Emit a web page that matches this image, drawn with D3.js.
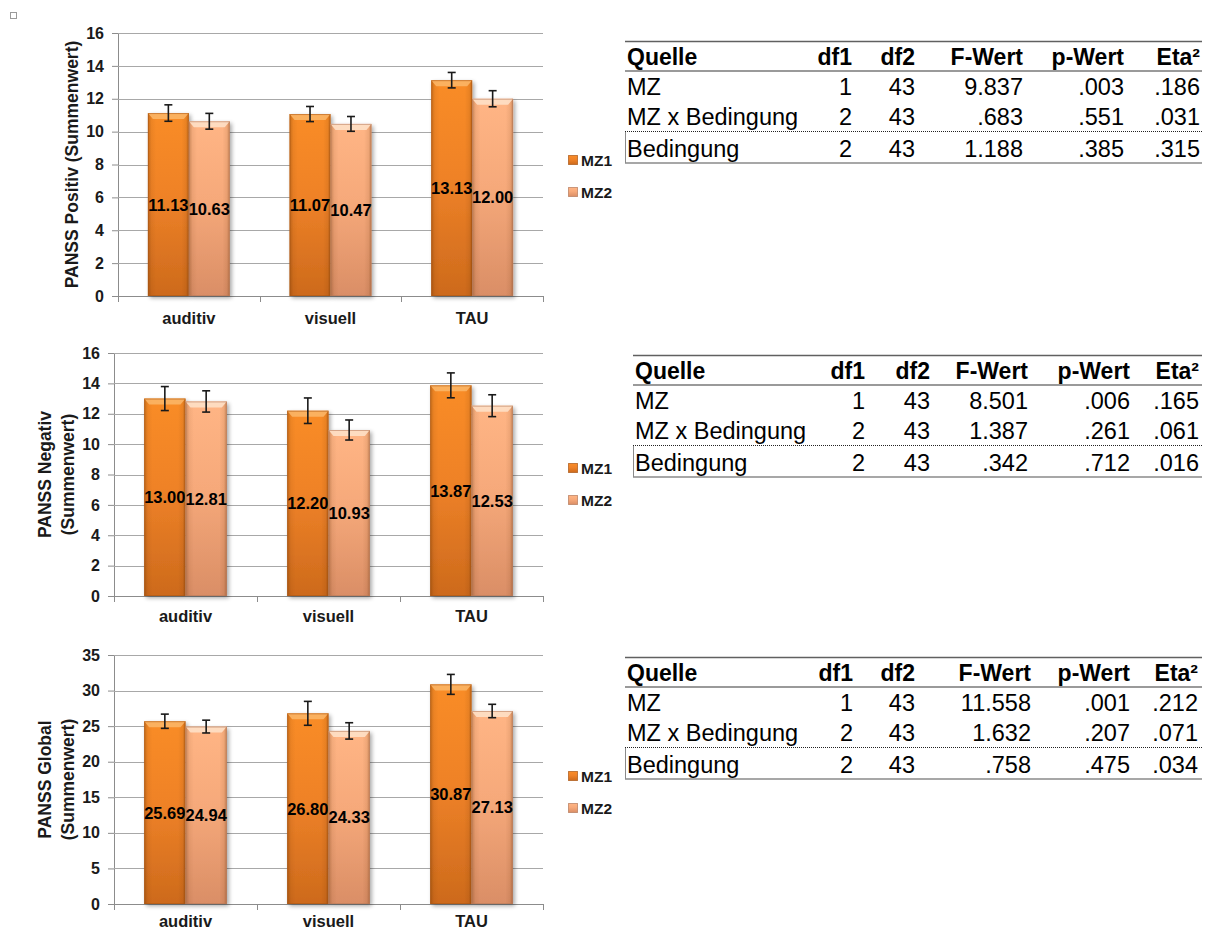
<!DOCTYPE html>
<html>
<head>
<meta charset="utf-8">
<script src="https://cdn.jsdelivr.net/npm/d3@7"></script>
<style>
  html, body { margin: 0; padding: 0; background: #fff; }
  svg { display: block; font-family: "Liberation Sans", Arial, sans-serif; }
</style>
</head>
<body>
<svg id="chart" width="1212" height="931"></svg>
<script>
// ---- data ----
const categories = ["auditiv", "visuell", "TAU"];
const seriesNames = ["MZ1", "MZ2"];

// PANSS Positiv
const positivMZ1 = [11.13, 11.07, 13.13];
const positivMZ2 = [10.63, 10.47, 12.00];
const positivErrMZ1 = [0.50, 0.46, 0.47];
const positivErrMZ2 = [0.48, 0.45, 0.49];
const positivTicks = [0, 2, 4, 6, 8, 10, 12, 14, 16];

// PANSS Negativ
const negativMZ1 = [13.00, 12.20, 13.87];
const negativMZ2 = [12.81, 10.93, 12.53];
const negativErrMZ1 = [0.79, 0.84, 0.82];
const negativErrMZ2 = [0.70, 0.66, 0.72];
const negativTicks = [0, 2, 4, 6, 8, 10, 12, 14, 16];

// PANSS Global
const globalMZ1 = [25.69, 26.80, 30.87];
const globalMZ2 = [24.94, 24.33, 27.13];
const globalErrMZ1 = [1.00, 1.68, 1.40];
const globalErrMZ2 = [0.90, 1.15, 0.94];
const globalTicks = [0, 5, 10, 15, 20, 25, 30, 35];

// ANOVA tables
const tableHeader = ["Quelle", "df1", "df2", "F-Wert", "p-Wert", "Eta²"];
const positivAnova = [
  ["MZ", "1", "43", "9.837", ".003", ".186"],
  ["MZ x Bedingung", "2", "43", ".683", ".551", ".031"],
  ["Bedingung", "2", "43", "1.188", ".385", ".315"]
];
const negativAnova = [
  ["MZ", "1", "43", "8.501", ".006", ".165"],
  ["MZ x Bedingung", "2", "43", "1.387", ".261", ".061"],
  ["Bedingung", "2", "43", ".342", ".712", ".016"]
];
const globalAnova = [
  ["MZ", "1", "43", "11.558", ".001", ".212"],
  ["MZ x Bedingung", "2", "43", "1.632", ".207", ".071"],
  ["Bedingung", "2", "43", ".758", ".475", ".034"]
];

// ---- layout ----
const panels = [
  {
    titleLines: ["PANSS Positiv (Summenwert)"], titleX: [72],
    mz1: positivMZ1, mz2: positivMZ2, err1: positivErrMZ1, err2: positivErrMZ2,
    ticks: positivTicks, left: 118, right: 543, top: 33, bottom: 296, catY: 324,
    legendY: 160,
    anova: positivAnova,
    table: { top: 41, left: 625, right: 1202, cols: [852, 915, 1023, 1124, 1200] }
  },
  {
    titleLines: ["PANSS Negativ", "(Summenwert)"], titleX: [45, 68],
    mz1: negativMZ1, mz2: negativMZ2, err1: negativErrMZ1, err2: negativErrMZ2,
    ticks: negativTicks, left: 114, right: 543, top: 353, bottom: 596, catY: 622,
    legendY: 468,
    anova: negativAnova,
    table: { top: 355, left: 633, right: 1202, cols: [865, 930, 1028, 1130, 1199] }
  },
  {
    titleLines: ["PANSS Global", "(Summenwert)"], titleX: [45, 68],
    mz1: globalMZ1, mz2: globalMZ2, err1: globalErrMZ1, err2: globalErrMZ2,
    ticks: globalTicks, left: 114, right: 543, top: 655, bottom: 904, catY: 927,
    legendY: 776,
    anova: globalAnova,
    table: { top: 657, left: 625, right: 1202, cols: [853, 915, 1031, 1130, 1198] }
  }
];

const svg = d3.select("#chart");
const defs = svg.append("defs");

// bar fills
function vGrad(id, stops) {
  const g = defs.append("linearGradient").attr("id", id)
    .attr("x1", 0).attr("y1", 0).attr("x2", 0).attr("y2", 1);
  stops.forEach(s => g.append("stop").attr("offset", s[0]).attr("stop-color", s[1]));
}
vGrad("fillMZ1", [["0%", "#f98c28"], ["45%", "#ef8228"], ["100%", "#cd6a1c"]]);
vGrad("fillMZ2", [["0%", "#ffb585"], ["45%", "#f6a97a"], ["100%", "#da8e66"]]);

const side = defs.append("linearGradient").attr("id", "sideShade")
  .attr("x1", 0).attr("y1", 0).attr("x2", 1).attr("y2", 0);
[["0%", 0.32], ["9%", 0.07], ["20%", 0], ["82%", 0], ["93%", 0.09], ["100%", 0.34]]
  .forEach(s => side.append("stop").attr("offset", s[0])
    .attr("stop-color", "#5a2a00").attr("stop-opacity", s[1]));

const shadow = defs.append("filter").attr("id", "barShadow")
  .attr("x", "-20%").attr("y", "-10%").attr("width", "150%").attr("height", "130%");
shadow.append("feGaussianBlur").attr("in", "SourceAlpha").attr("stdDeviation", 2);
shadow.append("feOffset").attr("dx", 2).attr("dy", 2).attr("result", "off");
shadow.append("feComponentTransfer").append("feFuncA").attr("type", "linear").attr("slope", 0.35);
const merge = shadow.append("feMerge");
merge.append("feMergeNode");
merge.append("feMergeNode").attr("in", "SourceGraphic");

const seriesStyle = {
  MZ1: { fill: "url(#fillMZ1)", bevel: "#fbb566", stroke: "#a95614" },
  MZ2: { fill: "url(#fillMZ2)", bevel: "#fee0c6", stroke: "#b5795a" }
};

// small marker in the page corner
svg.append("rect").attr("x", 10.5).attr("y", 12.5).attr("width", 6).attr("height", 6)
  .attr("fill", "#fff").attr("stroke", "#9a9a9a").attr("stroke-width", 1);

panels.forEach(p => {
  const g = svg.append("g");
  const y = d3.scaleLinear().domain([p.ticks[0], p.ticks[p.ticks.length - 1]])
    .range([p.bottom, p.top]);
  const x = d3.scaleBand().domain(categories).range([p.left, p.right]).padding(0);
  const xs = d3.scaleBand().domain(seriesNames).range([0, x.bandwidth()])
    .paddingInner(0).paddingOuter(0.73);

  // gridlines + y axis
  const yAxis = d3.axisLeft(y).tickValues(p.ticks).tickSize(6).tickPadding(8);
  const ya = g.append("g").attr("transform", `translate(${p.left},0)`).call(yAxis);
  ya.select(".domain").attr("stroke", "#8c8c8c").attr("d", `M0.5,${p.top}V${p.bottom}`);
  ya.selectAll(".tick line").attr("stroke", "#8c8c8c");
  ya.selectAll(".tick text").attr("font-size", 16).attr("font-weight", "bold")
    .attr("fill", "#1a1a1a").attr("font-family", "Liberation Sans, Arial, sans-serif");

  g.append("g").selectAll("line").data(p.ticks.filter(t => t !== p.ticks[0])).join("line")
    .attr("x1", p.left).attr("x2", p.right)
    .attr("y1", d => Math.round(y(d)) + 0.5).attr("y2", d => Math.round(y(d)) + 0.5)
    .attr("stroke", "#a8a8a8").attr("stroke-width", 1.2);

  // x axis
  const xa = g.append("g").attr("transform", `translate(0,${p.bottom})`)
    .call(d3.axisBottom(x).tickSize(0).tickPadding(0));
  xa.select(".domain").remove();
  xa.selectAll(".tick text").remove();
  g.append("line").attr("x1", p.left).attr("x2", p.right)
    .attr("y1", p.bottom + 0.5).attr("y2", p.bottom + 0.5)
    .attr("stroke", "#8c8c8c").attr("stroke-width", 1.2);
  const bounds = [p.left, ...categories.map(c => x(c) + x.bandwidth())];
  g.append("g").selectAll("line").data(bounds).join("line")
    .attr("x1", d => Math.round(d) + 0.5).attr("x2", d => Math.round(d) + 0.5)
    .attr("y1", p.bottom).attr("y2", p.bottom + 6)
    .attr("stroke", "#8c8c8c");
  g.append("g").selectAll("text").data(categories).join("text")
    .attr("x", d => x(d) + x.bandwidth() / 2).attr("y", p.catY)
    .attr("text-anchor", "middle").attr("font-size", 16.5).attr("font-weight", "bold")
    .attr("fill", "#1a1a1a").text(d => d);

  // y title
  const tCenter = (p.top + p.bottom) / 2;
  p.titleLines.forEach((line, i) => {
    g.append("text")
      .attr("transform", `translate(${p.titleX[i]},${tCenter}) rotate(-90)`)
      .attr("text-anchor", "middle").attr("dominant-baseline", "central")
      .attr("font-size", 17.5).attr("font-weight", "bold").attr("fill", "#1a1a1a")
      .text(line);
  });

  // bars
  const rows = [];
  categories.forEach((c, i) => {
    rows.push({ cat: c, s: "MZ1", v: p.mz1[i], e: p.err1[i] });
    rows.push({ cat: c, s: "MZ2", v: p.mz2[i], e: p.err2[i] });
  });
  const bw = xs.bandwidth();
  const bars = g.append("g").selectAll("g").data(rows).join("g")
    .attr("transform", d => `translate(${x(d.cat) + xs(d.s)},0)`);
  bars.append("rect")
    .attr("x", 0).attr("y", d => y(d.v)).attr("width", bw)
    .attr("height", d => y(0) - y(d.v))
    .attr("fill", d => seriesStyle[d.s].fill)
    .attr("filter", "url(#barShadow)");
  bars.append("rect")
    .attr("x", 0).attr("y", d => y(d.v)).attr("width", bw)
    .attr("height", d => y(0) - y(d.v))
    .attr("fill", "url(#sideShade)");
  bars.append("path")
    .attr("d", d => {
      const t = y(d.v);
      return `M0,${t}H${bw}L${bw - 5},${t + 6}H5Z`;
    })
    .attr("fill", d => seriesStyle[d.s].bevel).attr("opacity", 0.9);
  bars.append("rect")
    .attr("x", 0.5).attr("y", d => y(d.v) + 0.5).attr("width", bw - 1)
    .attr("height", d => y(0) - y(d.v) - 1)
    .attr("fill", "none").attr("stroke", d => seriesStyle[d.s].stroke)
    .attr("stroke-opacity", 0.55);

  // error bars
  const eb = bars.append("g").attr("stroke", "#1a1a1a").attr("stroke-width", 1.6);
  eb.append("line").attr("x1", bw / 2).attr("x2", bw / 2)
    .attr("y1", d => y(d.v + d.e)).attr("y2", d => y(d.v - d.e));
  eb.append("line").attr("x1", bw / 2 - 4).attr("x2", bw / 2 + 4)
    .attr("y1", d => y(d.v + d.e)).attr("y2", d => y(d.v + d.e));
  eb.append("line").attr("x1", bw / 2 - 4).attr("x2", bw / 2 + 4)
    .attr("y1", d => y(d.v - d.e)).attr("y2", d => y(d.v - d.e));

  // value labels in the middle of each bar
  bars.append("text")
    .attr("x", bw / 2).attr("y", d => y(d.v / 2))
    .attr("text-anchor", "middle").attr("dominant-baseline", "central")
    .attr("font-size", 16.5).attr("font-weight", "bold").attr("fill", "#000")
    .text(d => d.v.toFixed(2));

  // legend
  const lg = g.append("g").attr("transform", `translate(568,${p.legendY})`);
  seriesNames.forEach((s, i) => {
    const row = lg.append("g").attr("transform", `translate(0,${i * 32})`);
    row.append("rect").attr("x", 0.5).attr("y", -4.5).attr("width", 9).attr("height", 9)
      .attr("fill", seriesStyle[s].fill).attr("stroke", seriesStyle[s].stroke)
      .attr("stroke-opacity", 0.7);
    row.append("text").attr("x", 13).attr("y", 0).attr("dominant-baseline", "central")
      .attr("font-size", 15.5).attr("font-weight", "bold").attr("fill", "#1a1a1a").text(s);
  });

  // ANOVA table
  const t = p.table;
  const tg = svg.append("g").attr("transform", `translate(0,${t.top})`);
  tg.append("line").attr("x1", t.left).attr("x2", t.right).attr("y1", 0.5).attr("y2", 0.5)
    .attr("stroke", "#606060").attr("stroke-width", 1.5);
  tg.append("line").attr("x1", t.left).attr("x2", t.right).attr("y1", 30).attr("y2", 30)
    .attr("stroke", "#9a9a9a").attr("stroke-width", 2);
  tg.append("line").attr("x1", t.left).attr("x2", t.right).attr("y1", 90.5).attr("y2", 90.5)
    .attr("stroke", "#222").attr("stroke-width", 1).attr("stroke-dasharray", "1,1");
  tg.append("line").attr("x1", t.left).attr("x2", t.right).attr("y1", 122).attr("y2", 122)
    .attr("stroke", "#8a8a8a").attr("stroke-width", 1.5);
  tg.append("line").attr("x1", t.left + 0.5).attr("x2", t.left + 0.5).attr("y1", 91).attr("y2", 122)
    .attr("stroke", "#8a8a8a").attr("stroke-width", 1);

  const cellX = [t.left + 2, ...t.cols];
  const anchors = ["start", "end", "end", "end", "end", "end"];
  tg.append("g").selectAll("text").data(tableHeader).join("text")
    .attr("x", (d, i) => cellX[i]).attr("y", 24)
    .attr("text-anchor", (d, i) => anchors[i])
    .attr("font-size", 23).attr("font-weight", "bold").attr("fill", "#000")
    .text(d => d);
  const baselines = [54, 84, 116];
  p.anova.forEach((r, ri) => {
    tg.append("g").selectAll("text").data(r).join("text")
      .attr("x", (d, i) => cellX[i]).attr("y", baselines[ri])
      .attr("text-anchor", (d, i) => anchors[i])
      .attr("font-size", 23.5).attr("fill", "#000")
      .text(d => d);
  });
});
</script>
</body>
</html>
